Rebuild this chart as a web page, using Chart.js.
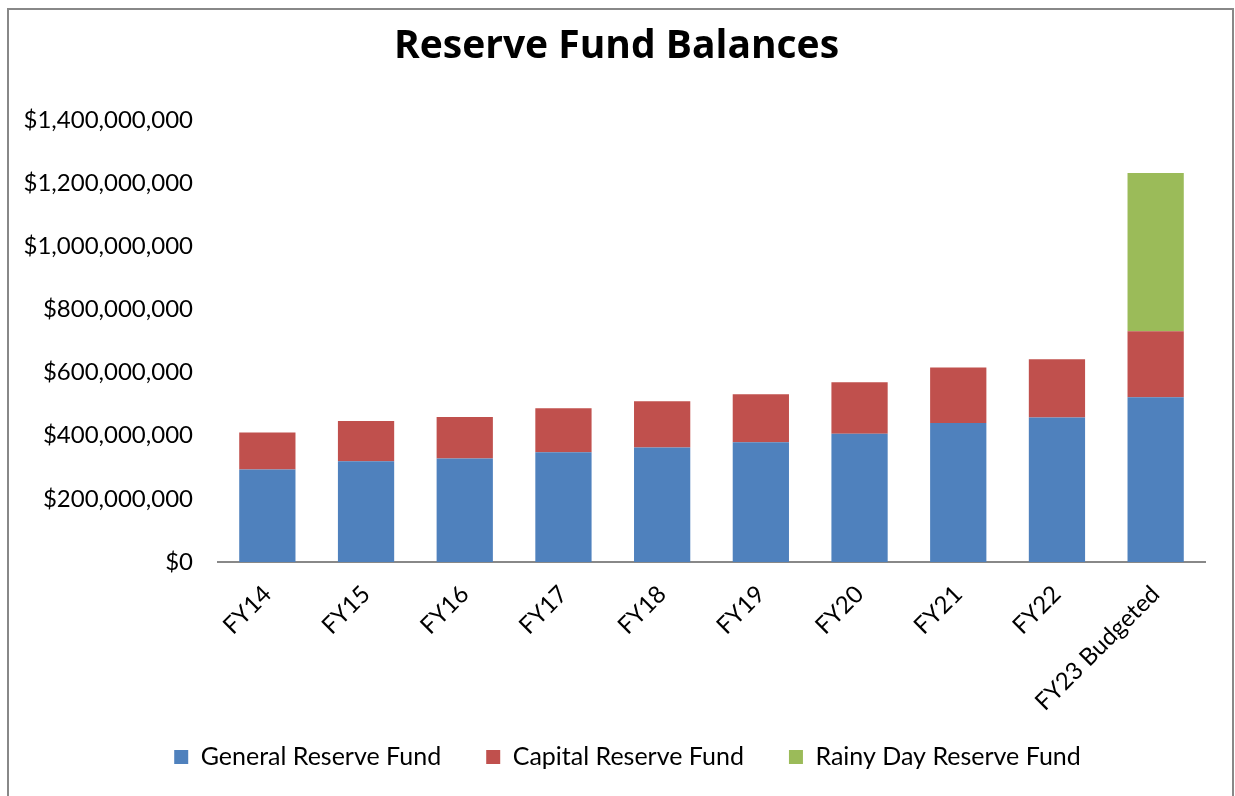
<!DOCTYPE html>
<html>
<head>
<meta charset="utf-8">
<script src="https://cdn.jsdelivr.net/npm/chart.js@4.4.1/dist/chart.umd.min.js"></script>
<style>
  html, body { margin: 0; padding: 0; background: #fff; overflow: hidden; }
  #wrap { position: relative; width: 1235px; height: 796px; }
  #frame { position: absolute; left: 7px; top: 8px; width: 1223px; height: 900px; border: 2px solid #888; pointer-events: none; }
  canvas { position: absolute; left: 0; top: 0; }
</style>
</head>
<body>
<div id="wrap">
  <canvas id="c" width="1235" height="796"></canvas>
  <div id="frame"></div>
</div>
<script>
const categories = ['FY14', 'FY15', 'FY16', 'FY17', 'FY18', 'FY19', 'FY20', 'FY21', 'FY22', 'FY23 Budgeted'];
const generalReserve = [293000000, 319000000, 328000000, 348000000, 363000000, 379000000, 406000000, 440000000, 458000000, 522000000];
const capitalReserve = [117000000, 128000000, 131000000, 139000000, 146000000, 152000000, 163000000, 176000000, 184000000, 209000000];
const rainyDayReserve = [null, null, null, null, null, null, null, null, null, 501000000];
const seriesNames = ['General Reserve Fund', 'Capital Reserve Fund', 'Rainy Day Reserve Fund'];
const yTicks = [0, 200000000, 400000000, 600000000, 800000000, 1000000000, 1200000000, 1400000000];

const FONT = 'Lato, "Open Sans", sans-serif';

// Nudges the legend and title blocks to where the original places them
// (the legend overlaps the area reserved for the long rotated category label).
const blockShift = {
  id: 'blockShift',
  afterLayout(chart) {
    const lg = chart.legend;
    if (lg) {
      lg.left += 20; lg.right += 20;
      lg.top -= 12.5; lg.bottom -= 12.5;
    }
    const tb = chart.titleBlock;
    if (tb) { tb.left += 9; tb.right += 9; }
  }
};

new Chart(document.getElementById('c'), {
  type: 'bar',
  data: {
    labels: categories,
    datasets: [
      { label: seriesNames[0], data: generalReserve, backgroundColor: '#4F81BD', borderWidth: 0 },
      { label: seriesNames[1], data: capitalReserve, backgroundColor: '#C0504D', borderWidth: 0 },
      { label: seriesNames[2], data: rainyDayReserve, backgroundColor: '#9BBB59', borderWidth: 0 }
    ]
  },
  plugins: [blockShift],
  options: {
    responsive: false,
    animation: false,
    layout: { padding: { left: 10, right: 30, top: 0, bottom: 4 } },
    datasets: { bar: { categoryPercentage: 1.0, barPercentage: 0.57 } },
    plugins: {
      title: {
        display: true,
        text: 'Reserve Fund Balances',
        color: '#000',
        font: { family: '"Open Sans", Lato, sans-serif', size: 39, weight: 'bold', lineHeight: 1.2 },
        padding: { top: 23.8, bottom: 49.4 }
      },
      legend: {
        position: 'bottom',
        labels: {
          color: '#000',
          font: { family: FONT, size: 25 },
          boxWidth: 14,
          boxHeight: 14,
          padding: 45
        }
      },
      tooltip: { enabled: false }
    },
    scales: {
      x: {
        stacked: true,
        grid: { display: false, drawTicks: false },
        border: { display: true, color: '#888', width: 2 },
        ticks: {
          color: '#000',
          font: { family: FONT, size: 24 },
          minRotation: 45,
          maxRotation: 45,
          autoSkip: false,
          padding: 18
        },
        afterFit: (s) => { s.height = 150; }
      },
      y: {
        stacked: true,
        min: 0,
        max: 1400000000,
        grid: { display: false, drawTicks: false },
        border: { display: false },
        afterBuildTicks: (s) => { s.ticks = yTicks.map(v => ({ value: v })); },
        ticks: {
          color: '#000',
          font: { family: FONT, size: 24 },
          padding: 25,
          callback: (v) => '$' + Number(v).toLocaleString('en-US')
        },
        afterFit: (s) => { s.width = 208; }
      }
    }
  }
});
</script>
</body>
</html>
